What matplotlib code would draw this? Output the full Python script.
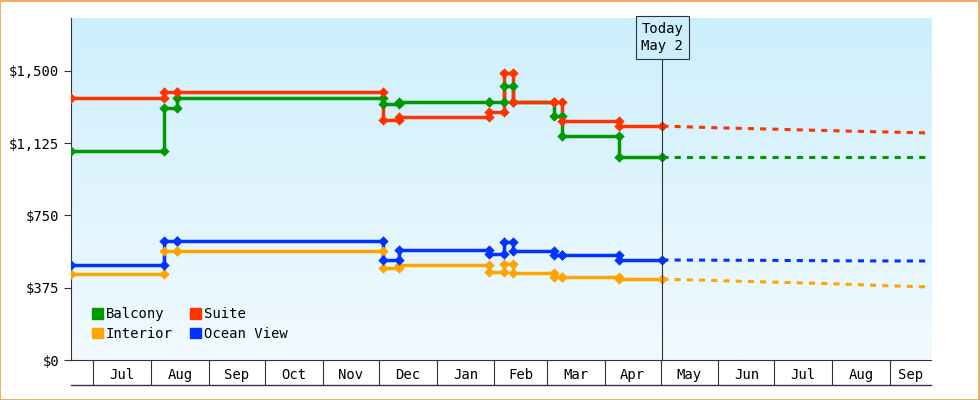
import numpy as np
import matplotlib
matplotlib.use("Agg")
import matplotlib.pyplot as plt
import matplotlib.dates as mdates
from matplotlib.patches import Patch, Rectangle
from matplotlib.lines import Line2D
from datetime import date

FONT = "DejaVu Sans Mono"
start = date(2024, 6, 19)
end = date(2025, 9, 23)
today = date(2025, 5, 2)

# change dates (past), values after each change
change_dates = ["2024-06-19", "2024-08-08", "2024-08-15", "2024-12-03", "2024-12-12",
                "2025-01-29", "2025-02-06", "2025-02-11", "2025-03-05", "2025-03-09", "2025-04-09"]
balcony = [1085, 1308, 1360, 1329, 1339, 1339, 1422, 1339, 1266, 1163, 1054]
suite = [1360, 1391, 1391, 1246, 1261, 1287, 1490, 1339, 1339, 1240, 1214]
interior = [446, 566, 566, 477, 493, 457, 498, 451, 431, 431, 420]
ocean = [493, 618, 618, 519, 571, 550, 612, 566, 545, 545, 519]

fc_dates = ["2025-05-02", "2025-06-01", "2025-07-01", "2025-08-01", "2025-09-01", "2025-09-23"]
fc_balcony = [1054, 1054, 1054, 1054, 1054, 1054]
fc_suite = [1214, 1205, 1198, 1190, 1183, 1178]
fc_interior = [420, 412, 404, 396, 385, 379]
fc_ocean = [519, 518, 517, 515, 514, 514]

months = ["Jul", "Aug", "Sep", "Oct", "Nov", "Dec", "Jan", "Feb", "Mar", "Apr", "May", "Jun", "Jul", "Aug", "Sep"]
yticks = [0, 375, 750, 1125, 1500]

fig = plt.figure(figsize=(9.8, 4.0), dpi=100)
fig.patch.set_facecolor("white")
fig.add_artist(Rectangle((0.0005, 0.001), 0.998, 0.997, transform=fig.transFigure,
                         fill=False, edgecolor="#f0a040", linewidth=1.2))
ax = fig.add_axes([71/980, 40/400, 860/980, 342/400])

cd = mdates.datestr2num(change_dates)
fd = mdates.datestr2num(fc_dates)
tnum = mdates.date2num(today)
series = [(balcony, fc_balcony, "#009900", "Balcony"), (suite, fc_suite, "#ff3300", "Suite"),
          (interior, fc_interior, "#ffa500", "Interior"), (ocean, fc_ocean, "#0033ff", "Ocean View")]
for vals, fc, col, name in series:
    xs = np.append(cd, tnum)
    ys = np.append(vals, vals[-1])
    ax.plot(xs, ys, drawstyle="steps-post", color=col, lw=2.5, zorder=3)
    mx = list(cd[1:]) + list(cd[1:]) + [cd[0], tnum]
    my = list(vals[:-1]) + list(vals[1:]) + [vals[0], vals[-1]]
    ax.scatter(mx, my, marker="D", s=28, color=col, zorder=4, linewidths=0)
    ax.plot(fd, fc, color=col, lw=2.2, ls=(0, (2, 2)), zorder=3)

ax.set_xlim(mdates.date2num(start), mdates.date2num(end))
ax.set_ylim(0, 1775)
# gradient
grad = np.linspace(0, 1, 256).reshape(-1, 1)
from matplotlib.colors import LinearSegmentedColormap
cmap = LinearSegmentedColormap.from_list("g", ["#f2faff", "#cdeffc"])
ax.imshow(grad, extent=[0, 1, 0, 1], transform=ax.transAxes, aspect="auto",
          cmap=cmap, origin="lower", zorder=0)

for s in ["top", "right"]:
    ax.spines[s].set_visible(False)
ax.spines["left"].set_color("#333333")
ax.spines["bottom"].set_color("#333333")
ax.set_yticks(yticks)
ax.set_yticklabels(["$0", "$375", "$750", "$1,125", "$1,500"], fontfamily=FONT, fontsize=10)
ax.tick_params(axis="y", length=5, color="#333333")

mstarts = [date(2024 + (6 + i) // 12, (6 + i) % 12 + 1, 1) for i in range(len(months))]
mnum = mdates.date2num(mstarts)
ax.set_xticks(mnum)
ax.set_xticklabels([])
ax.tick_params(axis="x", which="major", length=18, color="#333333")
mids = []
ends = list(mnum[1:]) + [mdates.date2num(end)]
for a, b in zip(mnum, ends):
    mids.append((a + b) / 2)
ax.set_xticks(mids, minor=True)
ax.set_xticklabels(months, minor=True, fontfamily=FONT, fontsize=10)
ax.tick_params(axis="x", which="minor", length=0, pad=6)
fig.add_artist(Line2D([71/980, 931/980], [15/400, 15/400], color="#333333", lw=1))

ax.axvline(tnum, color="#333333", lw=0.8, zorder=5)
ax.text(tnum, 1755, "Today\nMay 2", ha="center", va="top", fontfamily=FONT, fontsize=10,
        zorder=6, linespacing=1.3,
        bbox=dict(boxstyle="square,pad=0.4", fc="#cdeffc", ec="#333333", lw=0.8))

handles = [Patch(color=c) for _, _, c, _ in [series[0], series[2], series[1], series[3]]]
labels = ["Balcony", "Interior", "Suite", "Ocean View"]
leg = ax.legend(handles, labels, ncol=2, loc="lower left", bbox_to_anchor=(0.01, 0.02),
                frameon=False, prop={"family": FONT, "size": 10}, handlelength=0.8,
                handleheight=0.8, handletextpad=0.2, columnspacing=1.2, labelspacing=0.4)
fig.savefig("out.png", dpi=100)
